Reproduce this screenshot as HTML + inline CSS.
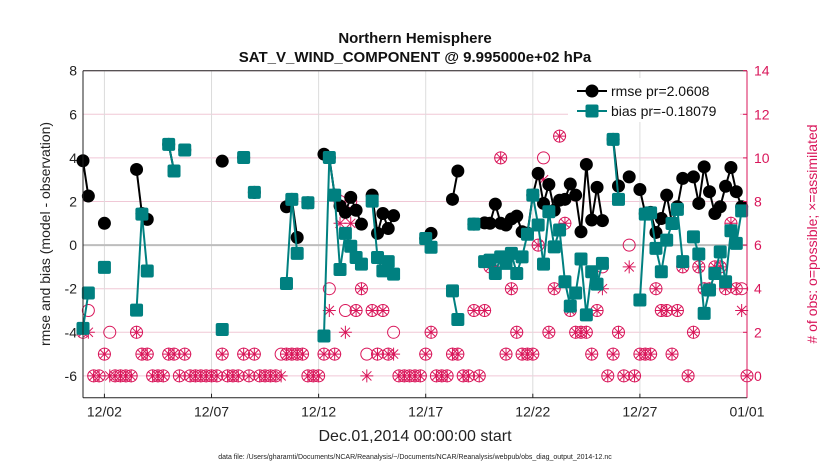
<!DOCTYPE html>
<html><head><meta charset="utf-8">
<style>
html,body{margin:0;padding:0;background:#fff;}
svg{display:block;font-family:"Liberation Sans",Arial,sans-serif;}
</style></head>
<body>
<svg id="chart" width="830" height="470" viewBox="0 0 830 470">
<rect x="0" y="0" width="830" height="470" fill="#fff"/>
<text x="415" y="43" text-anchor="middle" font-size="15" font-weight="bold" fill="#111">Northern Hemisphere</text>
<text x="415" y="62" text-anchor="middle" font-size="15" font-weight="bold" fill="#111">SAT_V_WIND_COMPONENT @ 9.995000e+02 hPa</text>
<g id="grid"></g>
<g id="obs"></g>
<g id="rmse"></g>
<g id="bias"></g>
<g id="axes"></g>
<g id="legend">
 <rect x="568" y="78" width="172" height="44" fill="#fff"/>
 <line x1="577" y1="91" x2="607" y2="91" stroke="#000" stroke-width="2"/>
 <circle cx="592" cy="91" r="6.5" fill="#000"/>
 <text x="611" y="96" font-size="14" fill="#111">rmse pr=2.0608</text>
 <line x1="577" y1="111" x2="607" y2="111" stroke="#008080" stroke-width="2"/>
 <rect x="585.5" y="104.5" width="13" height="13" rx="2" fill="#008080"/>
 <text x="611" y="116" font-size="14" fill="#111">bias pr=-0.18079</text>
</g>
<text transform="translate(50,234) rotate(-90)" text-anchor="middle" font-size="14" fill="#222">rmse and bias (model - observation)</text>
<text transform="translate(817,234) rotate(-90)" text-anchor="middle" font-size="14" fill="#d9165a"># of obs: o=possible; ×=assimilated</text>
<text x="415" y="441" text-anchor="middle" font-size="16" fill="#222">Dec.01,2014 00:00:00 start</text>
<text x="415" y="459" text-anchor="middle" font-size="7" fill="#222">data file: /Users/gharamti/Documents/NCAR/Reanalysis/~/Documents/NCAR/Reanalysis/webpub/obs_diag_output_2014-12.nc</text>
</svg>
<script>
const xTickDays=[1,6,11,16,21,26,31];
const xTickLabels=["12/02","12/07","12/12","12/17","12/22","12/27","01/01"];
const yLeftTicks=[-6,-4,-2,0,2,4,6,8];
const yRightTicks=[0,2,4,6,8,10,12,14];
const rmseT=[0,0.25,1,2.5,2.75,3,4,4.25,4.75,6.5,7.5,8,9.5,9.75,10,10.5,11.25,11.5,11.75,12,12.25,12.5,12.75,13,13.5,13.75,14,14.25,14.5,16,16.25,17.25,17.5,18.25,18.75,19,19.25,19.5,19.75,20,20.25,20.5,20.75,21,21.25,21.5,21.75,22,22.25,22.5,22.75,23,23.25,23.5,23.75,24,24.25,24.75,25,25.5,26,26.25,26.5,26.75,27,27.25,27.5,27.75,28,28.5,28.75,29,29.25,29.5,29.75,30,30.25,30.5,30.75];
const rmseV=[3.87,2.25,1.0,3.47,1.45,1.18,4.62,3.4,4.36,3.85,4.02,2.42,1.76,2.1,0.35,1.94,4.17,4.02,2.29,1.8,1.5,2.19,1.6,0.96,2.29,0.54,1.45,0.76,1.35,0.3,0.54,2.1,3.4,0.96,1.02,1.0,1.88,1.0,0.92,1.2,1.33,0.61,0.55,2.29,3.29,1.91,2.78,1.6,2.06,2.1,2.8,2.29,0.61,3.7,1.15,2.65,1.12,4.85,2.71,3.13,2.55,1.45,1.5,0.58,1.22,2.29,1.0,1.76,3.06,3.13,1.91,3.59,2.45,1.45,1.76,2.7,3.56,2.45,1.76];
const biasT=[0,0.25,1,2.5,2.75,3,4,4.25,4.75,6.5,7.5,8,9.5,9.75,10,10.5,11.25,11.5,11.75,12,12.25,12.5,12.75,13,13.5,13.75,14,14.25,14.5,16,16.25,17.25,17.5,18.25,18.75,19,19.25,19.5,19.75,20,20.25,20.5,20.75,21,21.25,21.5,21.75,22,22.25,22.5,22.75,23,23.25,23.5,23.75,24,24.25,24.75,25,26,26.25,26.5,26.75,27,27.25,27.5,27.75,28,28.5,28.75,29,29.25,29.5,29.75,30,30.25,30.5,30.75];
const biasV=[-3.82,-2.2,-1.02,-2.98,1.42,-1.19,4.62,3.4,4.36,-3.87,4.02,2.42,-1.76,2.1,-0.38,1.94,-4.17,4.02,2.29,-1.12,0.54,-0.05,-0.57,-0.87,2.02,-0.57,-1.18,-0.76,-1.33,0.3,-0.1,-2.1,-3.41,0.96,-0.76,-0.69,-1.3,-0.54,-0.84,-0.38,-1.3,-0.54,0.5,2.29,0.92,-0.87,1.53,-0.08,0.69,-1.68,-2.8,-2.2,-0.64,-3.2,-1.22,-1.79,-0.84,4.85,2.1,-2.52,1.42,1.48,-0.15,-1.22,0.23,0.99,1.64,-0.76,0.38,-0.41,-3.13,-2.06,-1.3,-0.31,-1.68,0.66,0.08,1.57];
const obsT=[0,0.25,0.5,0.75,1,1.25,1.5,1.75,2,2.25,2.5,2.75,3,3.25,3.5,3.75,4,4.25,4.5,4.75,5,5.25,5.5,5.75,6,6.25,6.5,6.75,7,7.25,7.5,7.75,8,8.25,8.5,8.75,9,9.25,9.5,9.75,10,10.25,10.5,10.75,11,11.25,11.5,11.75,12,12.25,12.5,12.75,13,13.25,13.5,13.75,14,14.25,14.5,14.75,15,15.25,15.5,15.75,16,16.25,16.5,16.75,17,17.25,17.5,17.75,18,18.25,18.5,18.75,19,19.25,19.5,19.75,20,20.25,20.5,20.75,21,21.25,21.5,21.75,22,22.25,22.5,22.75,23,23.25,23.5,23.75,24,24.25,24.5,24.75,25,25.25,25.5,25.75,26,26.25,26.5,26.75,27,27.25,27.5,27.75,28,28.25,28.5,28.75,29,29.25,29.5,29.75,30,30.25,30.5,30.75,31];
const possV=[2,3,0,0,1,2,0,0,0,0,2,1,1,0,0,0,1,1,0,1,0,0,0,0,0,0,1,0,0,0,1,0,1,0,0,0,0,1,1,1,1,1,0,0,0,1,4,1,8,3,8,3,4,1,3,1,3,1,2,0,0,0,0,0,1,2,0,0,0,1,1,0,0,3,0,3,5,5,10,1,4,2,1,1,1,6,10,2,4,11,7,3,2,2,2,1,3,5,0,1,2,0,6,0,1,1,1,4,3,3,1,3,5,0,2,5,4,4,5,5,4,7,4,4,0];
const assimV=[2,2,0,0,1,0,0,0,0,0,2,1,1,0,0,0,1,1,0,1,0,0,0,0,0,0,1,0,0,0,1,0,1,0,0,0,0,0,1,1,1,1,0,0,0,1,3,1,7,2,7,3,4,0,3,1,3,1,1,0,0,0,0,0,1,2,0,0,0,1,1,0,0,3,0,3,5,5,10,1,4,2,1,1,1,6,9,2,4,11,7,3,2,2,2,1,3,4,0,1,2,0,5,0,1,1,1,4,3,3,1,3,5,0,2,5,4,4,5,5,4,7,4,3,0];

const NS="http://www.w3.org/2000/svg";
const X0=83,X1=747,Y0=70.7,Y1=397.7;
const xS=d=>X0+d*(X1-X0)/31;
const yL=v=>Y0+(8-v)*(Y1-Y0)/15;
const yR=v=>yL(v-6);
const MAG="#d9165a",TEAL="#008080";
function mk(tag,attrs,parent){const e=document.createElementNS(NS,tag);for(const k in attrs)e.setAttribute(k,attrs[k]);parent.appendChild(e);return e;}
const grid=document.getElementById('grid'),axes=document.getElementById('axes');
yRightTicks.forEach(t=>{
 const l=mk('line',{x1:X0,x2:X1,y1:yR(t),y2:yR(t),stroke:'#f0c8d6','stroke-width':1},grid);
 
 
});
xTickDays.forEach((d,i)=>{
 const l=mk('line',{x1:xS(d),x2:xS(d),y1:Y0,y2:Y1,stroke:'#dcdcdc','stroke-width':1},grid);
 
 
 const t=mk('text',{x:xS(d),y:Y1+19,'text-anchor':'middle','font-size':14,fill:'#222'},axes);
 t.textContent=xTickLabels[i];
 
 
 mk('line',{x1:xS(d),x2:xS(d),y1:Y1,y2:Y1-4,stroke:'#222'},axes);
});
const z=mk('line',{x1:X0,x2:X1,y1:yL(0),y2:yL(0),stroke:'#bdbdbd','stroke-width':2},grid);


mk('line',{x1:X0,x2:X0,y1:Y0,y2:Y1,stroke:'#222'},axes);
mk('line',{x1:X0,x2:X1,y1:Y1,y2:Y1,stroke:'#222'},axes);
mk('line',{x1:X0,x2:X1,y1:Y0,y2:Y0,stroke:'#222'},axes);
mk('line',{x1:X1,x2:X1,y1:Y0,y2:Y1,stroke:MAG},axes);
yLeftTicks.forEach(t=>{
 const e=mk('text',{x:X0-6,y:yL(t)+5,'text-anchor':'end','font-size':14,fill:'#222'},axes);
 e.textContent=t;
 
 
});
yRightTicks.forEach(t=>{
 const e=mk('text',{x:X1+7,y:yR(t)+5,'font-size':14,fill:MAG},axes);
 e.textContent=t;
 
 
 mk('line',{x1:X1,x2:X1-4,y1:yR(t),y2:yR(t),stroke:MAG},axes);
});
const og=document.getElementById('obs');
function star(cx,cy,r,p){let d='';for(let k=0;k<4;k++){const a=k*Math.PI/4;d+=`M${cx-r*Math.cos(a)},${cy-r*Math.sin(a)}L${cx+r*Math.cos(a)},${cy+r*Math.sin(a)}`;}return mk('path',{d:d,stroke:MAG,'stroke-width':1,fill:'none'},p);}
obsT.forEach((d,i)=>{
 const c=mk('circle',{cx:xS(d),cy:yR(possV[i]),r:6,fill:'none',stroke:MAG,'stroke-width':1},og);
 
 
 const s=star(xS(d),yR(assimV[i]),6.5,og);
 
 
});
function series(T,V,gid,color,isSq){
 const g=document.getElementById(gid);
 for(let i=1;i<T.length;i++){
  if(T[i]-T[i-1]<0.3){
   const l=mk('line',{x1:xS(T[i-1]),y1:yL(V[i-1]),x2:xS(T[i]),y2:yL(V[i]),stroke:color,'stroke-width':2},g);
   
   
  }
 }
 T.forEach((d,i)=>{
  let m;
  if(isSq)m=mk('rect',{x:xS(d)-6.5,y:yL(V[i])-6.5,width:13,height:13,rx:2,fill:color},g);
  else m=mk('circle',{cx:xS(d),cy:yL(V[i]),r:6.5,fill:color},g);
  
  
 });
}
series(rmseT,rmseV,'rmse','#000',false);
series(biasT,biasV,'bias',TEAL,true);
</script>
</body></html>
